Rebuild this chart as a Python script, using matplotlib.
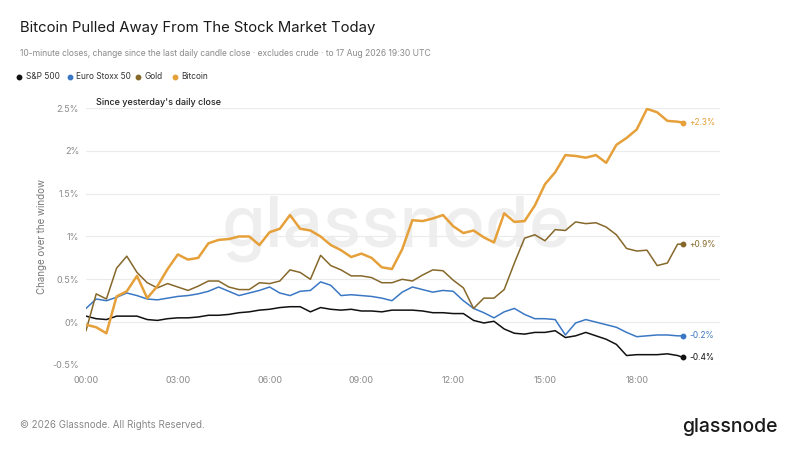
import numpy as np
import pandas as pd
import matplotlib
matplotlib.use("Agg")
import matplotlib.pyplot as plt
import matplotlib.dates as mdates

plt.rcParams['font.family'] = ['Inter', 'DejaVu Sans']

# 20-minute samples of the 10-minute closes, plus the last close at 19:30 UTC
times = pd.date_range('2026-08-17 00:00', '2026-08-17 19:20', freq='20min')
times = times.append(pd.DatetimeIndex(['2026-08-17 19:30']))

# % change since yesterday's daily close
sp500 = [0.07, 0.04, 0.03, 0.07, 0.07, 0.07, 0.03, 0.02, 0.04, 0.05,
         0.05, 0.06, 0.08, 0.08, 0.09, 0.11, 0.12, 0.14, 0.15, 0.17,
         0.18, 0.18, 0.12, 0.17, 0.15, 0.14, 0.15, 0.13, 0.13, 0.12,
         0.14, 0.14, 0.14, 0.13, 0.11, 0.11, 0.10, 0.10, 0.02, -0.01,
         0.01, -0.08, -0.13, -0.14, -0.12, -0.12, -0.10, -0.18, -0.16, -0.12,
         -0.16, -0.20, -0.26, -0.39, -0.38, -0.38, -0.38, -0.37, -0.39, -0.41]
stoxx50 = [0.16, 0.27, 0.25, 0.29, 0.34, 0.31, 0.27, 0.26, 0.28, 0.30,
           0.31, 0.33, 0.36, 0.41, 0.36, 0.31, 0.34, 0.37, 0.41, 0.34,
           0.31, 0.36, 0.37, 0.47, 0.43, 0.31, 0.32, 0.31, 0.30, 0.28,
           0.25, 0.35, 0.41, 0.38, 0.35, 0.37, 0.36, 0.25, 0.16, 0.11,
           0.05, 0.12, 0.16, 0.09, 0.04, 0.04, 0.03, -0.15, -0.01, 0.03,
           0.00, -0.03, -0.06, -0.12, -0.17, -0.16, -0.15, -0.15, -0.16, -0.16]
gold = [-0.10, 0.33, 0.27, 0.63, 0.77, 0.58, 0.46, 0.40, 0.45, 0.41,
        0.37, 0.42, 0.48, 0.48, 0.41, 0.38, 0.38, 0.46, 0.45, 0.48,
        0.61, 0.58, 0.50, 0.78, 0.66, 0.61, 0.54, 0.54, 0.52, 0.46,
        0.46, 0.50, 0.48, 0.55, 0.61, 0.60, 0.49, 0.40, 0.16, 0.28,
        0.28, 0.38, 0.69, 0.98, 1.02, 0.95, 1.08, 1.07, 1.17, 1.15,
        1.16, 1.11, 1.02, 0.86, 0.83, 0.84, 0.66, 0.69, 0.91, 0.91]
bitcoin = [-0.03, -0.06, -0.13, 0.30, 0.36, 0.54, 0.28, 0.42, 0.62, 0.79,
           0.73, 0.75, 0.92, 0.96, 0.97, 1.00, 1.00, 0.90, 1.05, 1.09,
           1.25, 1.09, 1.07, 1.00, 0.90, 0.84, 0.76, 0.80, 0.75, 0.64,
           0.62, 0.85, 1.19, 1.18, 1.21, 1.25, 1.12, 1.04, 1.07, 0.99,
           0.93, 1.27, 1.17, 1.18, 1.36, 1.61, 1.75, 1.95, 1.94, 1.92,
           1.95, 1.86, 2.07, 2.15, 2.25, 2.49, 2.45, 2.35, 2.34, 2.33]

series = [
    ('S&P 500', sp500, '#111111', 1.1),
    ('Euro Stoxx 50', stoxx50, '#3b78c4', 1.1),
    ('Gold', gold, '#86682b', 1.1),
    ('Bitcoin', bitcoin, '#e6a03a', 1.8),
]

fig = plt.figure(figsize=(8, 4.5), dpi=100)
ax = fig.add_axes([0.1075, 0.189, 0.7925, 0.571])

# watermark
ax.text(0.49, 0.53, 'glassnode', transform=ax.transAxes, fontsize=51,
        color='#eeeeee', ha='center', va='center', zorder=0, fontweight='medium')

for name, vals, color, lw in series:
    ax.plot(times, vals, color=color, lw=lw, zorder=3, solid_joinstyle='round')
    ax.plot(times[-1], vals[-1], 'o', color=color, ms=3.2, zorder=4)
    ax.annotate(f'{vals[-1]:+.1f}%', (times[-1], vals[-1]), xytext=(5, 0),
                textcoords='offset points', va='center', fontsize=6,
                color=color)

start = times[0]
ax.set_xlim(start, start + pd.Timedelta(hours=20.72))
ax.set_ylim(-0.5, 2.5)
ax.set_yticks([-0.5, 0, 0.5, 1, 1.5, 2, 2.5])
ax.set_yticklabels(['-0.5%', '0%', '0.5%', '1%', '1.5%', '2%', '2.5%'])
ax.xaxis.set_major_locator(mdates.HourLocator(byhour=range(0, 24, 3)))
ax.xaxis.set_major_formatter(mdates.DateFormatter('%H:%M'))
ax.tick_params(axis='both', length=0, labelsize=6.5, colors='#8a8a8a', pad=5)
ax.tick_params(axis='x', pad=8)
ax.grid(axis='y', color='#ebebeb', lw=0.8)
ax.grid(axis='x', visible=False)
for s in ax.spines.values():
    s.set_visible(False)
ax.set_ylabel('Change over the window', fontsize=7, color='#777777', labelpad=4)

ax.text(0.015, 1.005, "Since yesterday's daily close", transform=ax.transAxes,
        fontsize=6.5, color='#222222', va='bottom', fontweight='medium')

# header
fig.text(0.025, 0.937, 'Bitcoin Pulled Away From The Stock Market Today',
         fontsize=10.7, color='#1a1a1a', va='center')
fig.text(0.025, 0.882, '10-minute closes, change since the last daily candle close '
         '\u00b7 excludes crude \u00b7 to 17 Aug 2026 19:30 UTC',
         fontsize=6.15, color='#8a8a8a', va='center')

# legend row
lx = [0.024, 0.087, 0.173, 0.219]
for (name, vals, color, lw), x in zip(series, lx):
    fig.lines.append(plt.Line2D([x], [0.829], marker='o', ms=3.2, color=color,
                                transform=fig.transFigure))
    fig.text(x + 0.008, 0.829, name, fontsize=6, color='#333333', va='center')

# footer
fig.text(0.025, 0.055, '\u00a9 2026 Glassnode. All Rights Reserved.',
         fontsize=7, color='#888888', va='center')
fig.text(0.972, 0.052, 'glassnode', fontsize=14, color='#1a1a1a',
         ha='right', va='center', fontweight='medium')

fig.savefig('out.png', dpi=100, facecolor='white')
